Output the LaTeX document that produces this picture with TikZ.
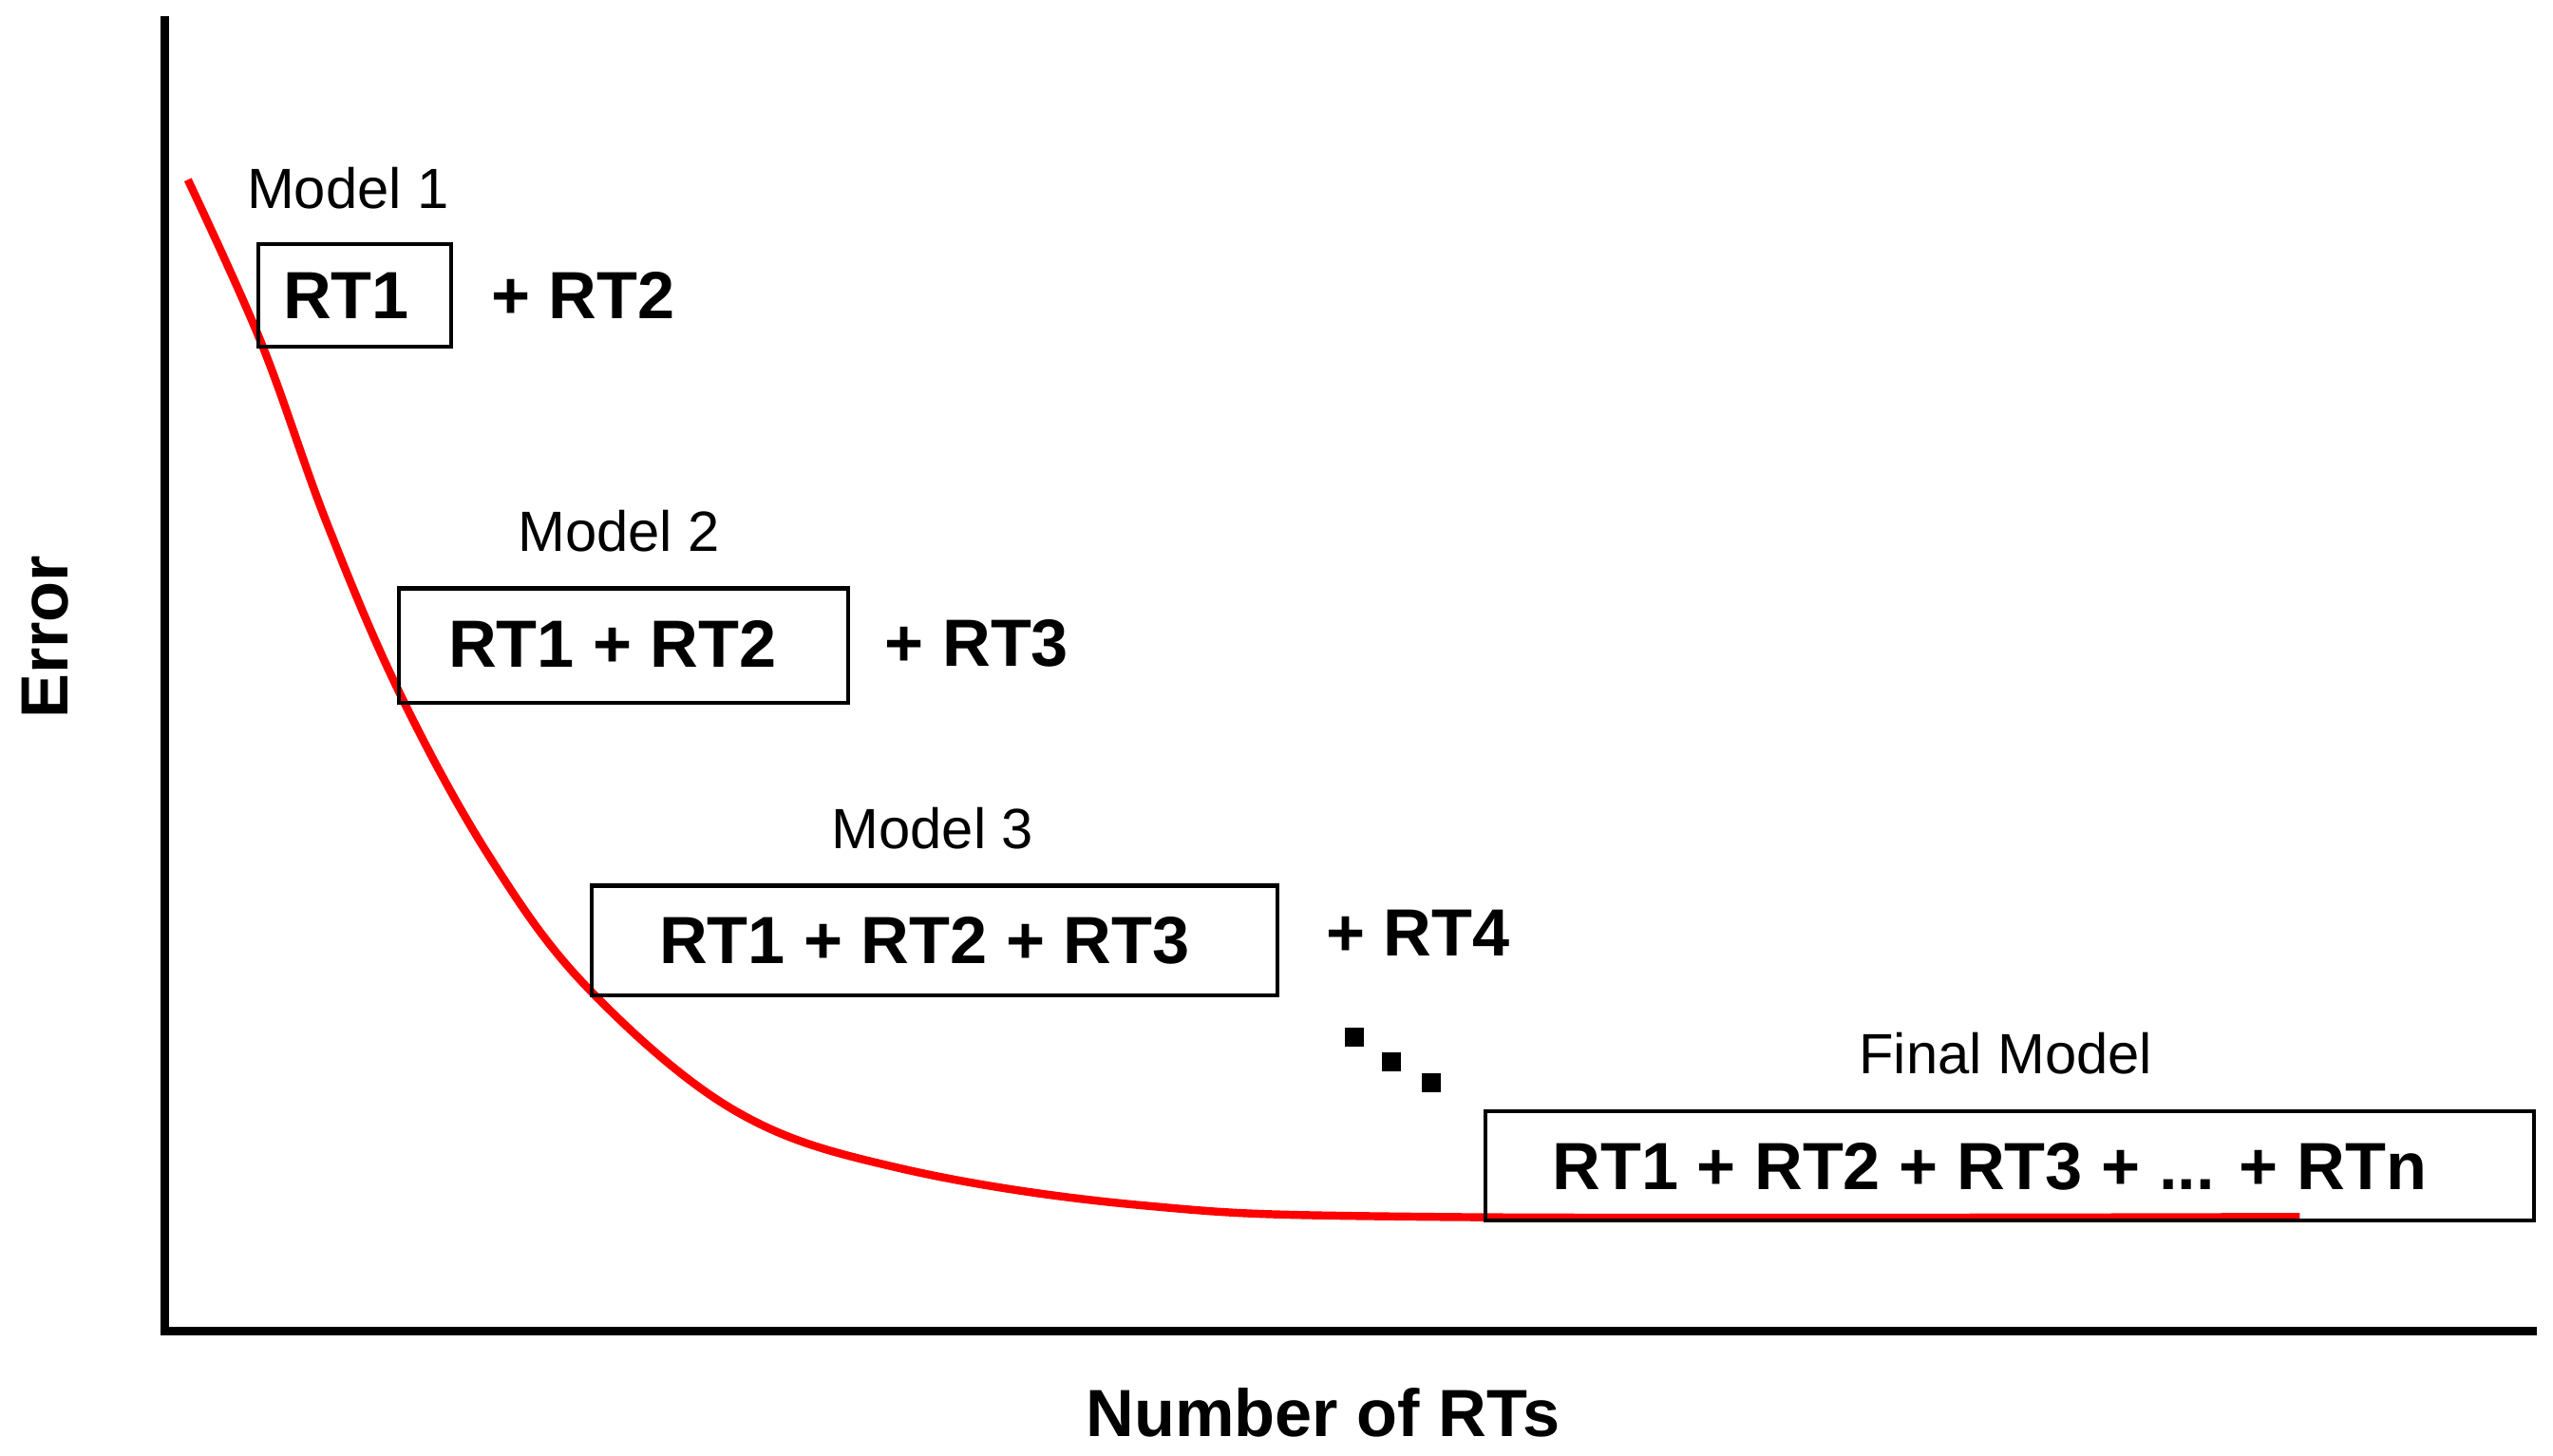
\documentclass[tikz,border=0pt]{standalone}
\usepackage{fontspec}
\setmainfont{Liberation Sans}
\begin{document}
\begin{tikzpicture}[x=0.0172cm,y=-0.0172cm,
  box/.style={draw,line width=1.2pt,inner sep=0pt,anchor=north west},
  bt/.style={font=\fontsize{20}{24}\selectfont\bfseries},
  ml/.style={font=\fontsize{17}{20}\selectfont},
  dot/.style={fill=black,minimum size=0.2cm,inner sep=0pt}]
\useasboundingbox (0,0) rectangle (1563,891);
\coordinate (top) at (101,10);
\coordinate (o) at (101,815);
\coordinate (r) at (1553,815);
\draw[line width=2.4pt] (top) -- (o) -- (r);
\draw[red,line width=2.4pt] plot[smooth,tension=0.6] coordinates {(115,110) (160,210) (200,320) (245,425) (300,525) (360,605) (450,680) (550,715) (700,738) (880,745) (1408,745)};
\node[box,minimum width=118*0.0172cm,minimum height=63*0.0172cm] (b1) at (157,148) {};
\node[box,minimum width=275*0.0172cm,minimum height=70*0.0172cm] (b2) at (243,359) {};
\node[box,minimum width=420*0.0172cm,minimum height=67*0.0172cm] (b3) at (361,541) {};
\node[box,minimum width=642*0.0172cm,minimum height=67*0.0172cm] (b4) at (908,679) {};
\node[bt] (t1) at (212,181) {RT1};
\node[bt] (p1) at (357,181) {+ RT2};
\node[bt] (t2) at (375,394) {RT1 + RT2};
\node[bt] (p2) at (598,394) {+ RT3};
\node[bt] (t3) at (566,576) {RT1 + RT2 + RT3};
\node[bt] (p3) at (868,571) {+ RT4};
\node[bt] (t4) at (1218,714) {RT1 + RT2 + RT3 + ... + RTn};
\node[ml] (m1) at (213,115) {Model 1};
\node[ml] (m2) at (379,325) {Model 2};
\node[ml] (m3) at (571,507) {Model 3};
\node[ml] (m4) at (1228,645) {Final Model};
\node[dot] (d1) at (829,635) {};
\node[dot] (d2) at (852,650) {};
\node[dot] (d3) at (876,663) {};
\node[bt,rotate=90] (ey) at (28,390) {Error};
\node[bt] (ex) at (810,865) {Number of RTs};
\end{tikzpicture}
\end{document}
